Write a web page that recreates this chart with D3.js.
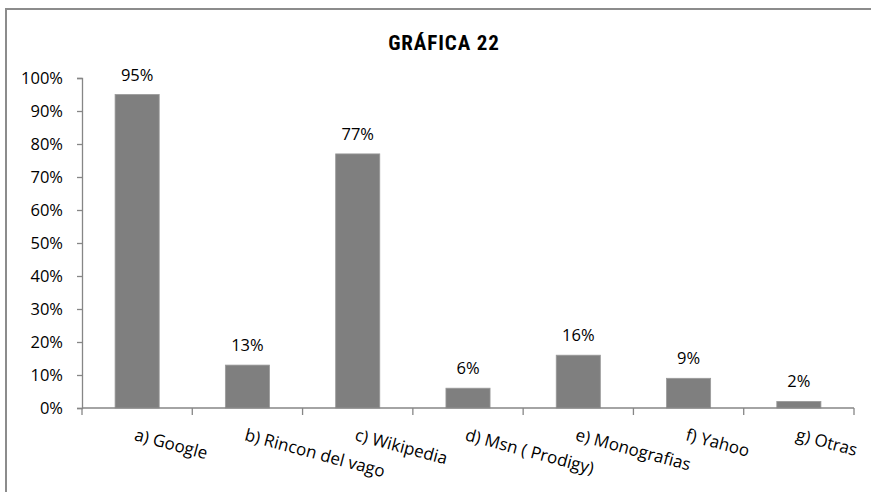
<!DOCTYPE html>
<html>
<head>
<meta charset="utf-8">
<script src="https://cdn.jsdelivr.net/npm/d3@7"></script>
<style>
  body { margin: 0; background: #fff; }
  text { font-family: "Open Sans", "Noto Sans", sans-serif; fill: #000; }
</style>
</head>
<body>
<div id="root"></div>
<script>
"use strict";

// chart values
var categories = ["a) Google", "b) Rincon del vago", "c) Wikipedia", "d) Msn ( Prodigy)",
    "e) Monografias", "f) Yahoo", "g) Otras"];
var shares = [0.95, 0.13, 0.77, 0.06, 0.16, 0.09, 0.02];
var yTicks = [0, 0.1, 0.2, 0.3, 0.4, 0.5, 0.6, 0.7, 0.8, 0.9, 1.0];
var title = "GRÁFICA 22";

var width = 871,
    height = 492,
    margin = { top: 78, left: 82, right: 17, bottom: 84 };

var svg = d3.select("#root").append("svg")
    .attr("width", width)
    .attr("height", height);

// outer frame (only top and left show in the crop)
svg.append("rect")
    .attr("x", 6)
    .attr("y", 9)
    .attr("width", 900)
    .attr("height", 520)
    .attr("fill", "none")
    .attr("stroke", "#8c8c8c")
    .attr("stroke-width", 2);

var x = d3.scaleBand()
    .domain(categories)
    .range([margin.left, width - margin.right])
    .padding(0);

var y = d3.scaleLinear()
    .domain([0, 1])
    .range([height - margin.bottom, margin.top]);

var barW = x.bandwidth() * 0.4;

// y axis
var yAxis = svg.append("g")
    .attr("transform", "translate(" + margin.left + ",0)")
    .call(d3.axisLeft(y)
        .tickValues(yTicks)
        .tickFormat(d3.format(".0%"))
        .tickSize(5)
        .tickPadding(14));

yAxis.select(".domain").attr("stroke", "#868686").attr("stroke-width", 1.3);
yAxis.selectAll(".tick line").attr("stroke", "#868686").attr("stroke-width", 1.3);
yAxis.selectAll(".tick text")
    .style("font-family", "'Open Sans', sans-serif")
    .style("font-size", "16.5px")
    .attr("fill", "#000");

// bars
svg.append("g").selectAll("rect")
    .data(shares)
    .enter()
    .append("rect")
    .attr("x", function (d, i) { return x(categories[i]) + (x.bandwidth() - barW) / 2; })
    .attr("y", function (d) { return y(d); })
    .attr("width", barW)
    .attr("height", function (d) { return y(0) - y(d); })
    .attr("fill", "#7f7f7f")
    .attr("stroke", "#9a9a9a")
    .attr("stroke-width", 0.8);

// x axis
var xAxis = svg.append("g")
    .attr("transform", "translate(0," + y(0) + ")")
    .call(d3.axisBottom(x).tickSize(0).tickFormat(""));

xAxis.select(".domain").remove();
xAxis.append("line")
    .attr("x1", margin.left).attr("x2", width - margin.right)
    .attr("stroke", "#868686").attr("stroke-width", 1.3);

// category boundary ticks
var edges = categories.map(function (c) { return x(c); }).concat([width - margin.right]);
xAxis.selectAll(".edge")
    .data(edges)
    .enter()
    .append("line")
    .attr("x1", function (d) { return d; })
    .attr("x2", function (d) { return d; })
    .attr("y1", 0)
    .attr("y2", 7)
    .attr("stroke", "#868686")
    .attr("stroke-width", 1.3);

// rotated category labels
svg.append("g").selectAll("text")
    .data(categories)
    .enter()
    .append("text")
    .attr("transform", function (d) {
        return "translate(" + (x(d) + x.bandwidth() / 2) + "," + (y(0) + 18) + ") rotate(15)";
    })
    .attr("dy", "0.85em")
    .attr("text-anchor", "start")
    .style("font-size", "17px")
    .text(function (d) { return d; });

// value labels
svg.append("g").selectAll("text")
    .data(shares)
    .enter()
    .append("text")
    .attr("x", function (d, i) { return x(categories[i]) + x.bandwidth() / 2; })
    .attr("y", function (d) { return y(d) - 14; })
    .attr("text-anchor", "middle")
    .style("font-size", "16.5px")
    .text(function (d) { return d3.format(".0%")(d); });

// title
svg.append("text")
    .attr("x", 444)
    .attr("y", 50)
    .attr("text-anchor", "middle")
    .style("font-family", "'Liberation Sans Narrow', 'Roboto Condensed', 'Arial Narrow', sans-serif")
    .style("font-size", "21px")
    .style("font-weight", "bold")
    .style("letter-spacing", "0.9px")
    .text(title);
</script>
</body>
</html>
